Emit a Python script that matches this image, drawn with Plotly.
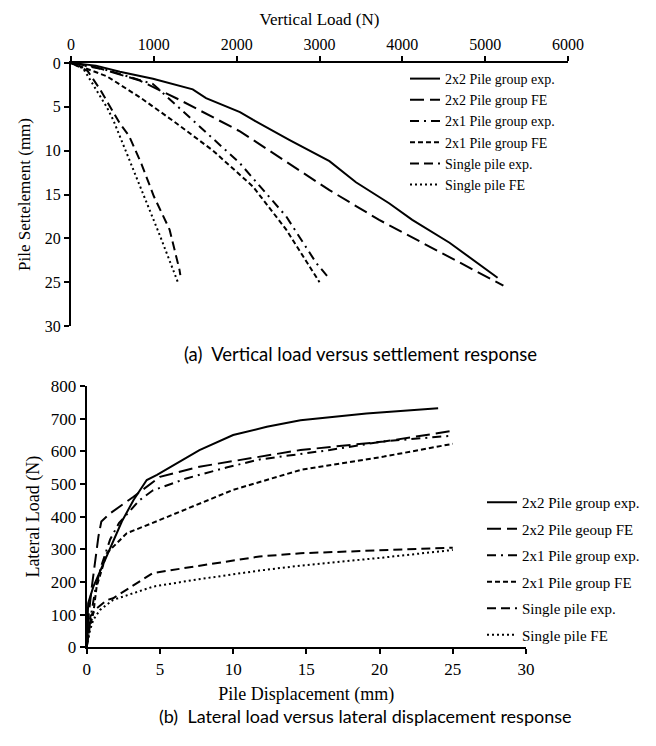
import plotly.graph_objects as go

# ---------------- (a) Vertical load vs settlement ----------------
load_2x2_exp = [0, 300, 590, 990, 1470, 1630, 2040, 2200, 2640, 3120, 3440, 3840, 4120, 4570, 5150]
sett_2x2_exp = [0, 0.3, 1.0, 1.8, 3.0, 4.0, 5.6, 6.5, 8.8, 11.2, 13.6, 16.0, 17.9, 20.5, 24.5]

load_2x2_fe = [0, 270, 830, 1310, 2040, 2430, 3120, 3720, 4500, 5220]
sett_2x2_fe = [0, 0.4, 2.0, 4.2, 7.8, 10.2, 14.5, 17.9, 21.8, 25.4]

load_2x1_exp = [0, 430, 990, 1200, 1474, 2036, 2598, 2960, 3120]
sett_2x1_exp = [0, 0.8, 2.4, 4.2, 6.5, 11.4, 17.5, 22.8, 24.6]

load_2x1_fe = [0, 430, 830, 1233, 1715, 2197, 2598, 3000]
sett_2x1_fe = [0, 1.5, 3.9, 6.6, 10.0, 14.1, 19.0, 25.0]

load_single_exp = [0, 200, 350, 590, 700, 850, 1000, 1190, 1310, 1320]
sett_single_exp = [0, 0.9, 3.0, 6.9, 8.3, 11.5, 15.2, 19.0, 23.6, 24.2]

load_single_fe = [0, 145, 230, 430, 510, 670, 830, 1070, 1290]
sett_single_fe = [0, 0.6, 1.9, 5.0, 6.5, 10.2, 14.0, 19.6, 25.0]

# ---------------- (b) Lateral load vs displacement ----------------
disp_2x2_exp = [0, 0.1, 0.45, 1.14, 1.82, 2.4, 3.2, 4.1, 4.8, 7.7, 10.0, 12.3, 14.6, 19.1, 24.0]
lat_2x2_exp = [0, 135, 185, 257, 329, 385, 451, 512, 528, 604, 650, 675, 695, 716, 732]

disp_2x2_fe = [0, 0.1, 0.35, 0.57, 0.8, 1.0, 1.6, 3.2, 5.0, 7.7, 11.8, 14.6, 20.3, 24.9]
lat_2x2_fe = [0, 84, 185, 267, 339, 385, 410, 461, 522, 553, 582, 604, 630, 662]

disp_2x1_exp = [0, 0.3, 0.6, 1.0, 1.6, 2.2, 2.8, 3.6, 4.5, 6.8, 9.6, 11.8, 16.6, 20.2, 25.0]
lat_2x1_exp = [0, 100, 180, 250, 330, 380, 410, 450, 480, 517, 551, 575, 604, 630, 648]

disp_2x1_fe = [0, 0.2, 0.45, 0.68, 1.37, 2.73, 5.0, 7.7, 10.0, 14.6, 20.3, 25.0]
lat_2x1_fe = [0, 60, 104, 186, 288, 349, 390, 441, 482, 543, 584, 623]

disp_single_exp = [0, 0.25, 0.7, 1.4, 1.8, 2.7, 4.5, 7.3, 9.6, 11.8, 14.6, 20.3, 25.0]
lat_single_exp = [0, 95, 120, 145, 150, 175, 227, 247, 262, 278, 288, 298, 305]

disp_single_fe = [0, 0.23, 0.45, 0.9, 1.8, 4.55, 7.3, 11.8, 14.6, 20.3, 25.0]
lat_single_fe = [0, 53, 84, 114, 145, 186, 206, 235, 250, 275, 298]

names_a = ["2x2 Pile group exp.", "2x2 Pile group FE", "2x1 Pile group exp.",
           "2x1 Pile group FE", "Single pile exp.", "Single pile FE"]
names_b = ["2x2 Pile group exp.", "2x2 Pile geoup FE", "2x1 Pile group exp.",
           "2x1 Pile group FE", "Single pile exp.", "Single pile FE"]

dashes = ["solid", "14px,6px", "9px,5px,2px,5px", "5px,3px", "9px,5px", "2px,3px"]

# page has an 8px body margin, so the figure is 640x730 placed at (8, 8)
OFF = 8
W, H = 640, 730
SERIF = "Liberation Serif"

fig = go.Figure()

series_a = [(load_2x2_exp, sett_2x2_exp), (load_2x2_fe, sett_2x2_fe),
            (load_2x1_exp, sett_2x1_exp), (load_2x1_fe, sett_2x1_fe),
            (load_single_exp, sett_single_exp), (load_single_fe, sett_single_fe)]
series_b = [(disp_2x2_exp, lat_2x2_exp), (disp_2x2_fe, lat_2x2_fe),
            (disp_2x1_exp, lat_2x1_exp), (disp_2x1_fe, lat_2x1_fe),
            (disp_single_exp, lat_single_exp), (disp_single_fe, lat_single_fe)]

for i, ((x, y), nm) in enumerate(zip(series_a, names_a)):
    fig.add_trace(go.Scatter(x=x, y=y, mode="lines", name=nm,
                             line=dict(color="black", width=2, dash=dashes[i]),
                             xaxis="x", yaxis="y", legend="legend"))
for i, ((x, y), nm) in enumerate(zip(series_b, names_b)):
    fig.add_trace(go.Scatter(x=x, y=y, mode="lines", name=nm,
                             line=dict(color="black", width=2, dash=dashes[i]),
                             xaxis="x2", yaxis="y2", legend="legend2",
                             legendgroup="b%d" % i))

def px_x(p):
    return (p - OFF) / W

def px_y(p):
    return 1 - (p - OFF) / H

axis_common = dict(showgrid=False, zeroline=False, showline=True, linecolor="black",
                   linewidth=2, ticks="outside", ticklen=5, tickwidth=2, tickcolor="black",
                   automargin=False)

fig.update_layout(
    width=W, height=H,
    margin=dict(l=0, r=0, t=0, b=0, autoexpand=False),
    paper_bgcolor="white", plot_bgcolor="white",
    showlegend=True,
    xaxis=dict(axis_common, domain=[px_x(71), px_x(568)], range=[0, 6000], dtick=1000,
               side="top", anchor="y",
               tickfont=dict(family=SERIF, size=16, color="black"),
               title=dict(text="Vertical Load (N)", font=dict(family=SERIF, size=17, color="black"),
                          standoff=6)),
    yaxis=dict(axis_common, domain=[px_y(326), px_y(63)], range=[30, 0], dtick=5,
               anchor="x",
               tickfont=dict(family=SERIF, size=16, color="black"),
               title=dict(text="Pile Settelement (mm)", font=dict(family=SERIF, size=17, color="black"),
                          standoff=10)),
    xaxis2=dict(axis_common, domain=[px_x(86.7), px_x(526)], range=[0, 30], dtick=5,
                anchor="y2",
                tickfont=dict(family=SERIF, size=17, color="black"),
                title=dict(text="Pile Displacement (mm)", font=dict(family=SERIF, size=18, color="black"),
                           standoff=10)),
    yaxis2=dict(axis_common, domain=[px_y(647.3), px_y(386)], range=[0, 800], dtick=100,
                anchor="x2",
                tickfont=dict(family=SERIF, size=17, color="black"),
                title=dict(text="Lateral Load (N)", font=dict(family=SERIF, size=18, color="black"),
                           standoff=6)),
    legend=dict(x=px_x(405), y=px_y(63), xanchor="left", yanchor="top",
                font=dict(family=SERIF, size=14, color="black"),
                bgcolor="rgba(0,0,0,0)", traceorder="normal",
                itemwidth=30),
    legend2=dict(x=px_x(482), y=px_y(486), xanchor="left", yanchor="top",
                 font=dict(family=SERIF, size=15, color="black"),
                 bgcolor="rgba(0,0,0,0)", traceorder="grouped", tracegroupgap=4,
                 itemwidth=30),
    annotations=[
        dict(text="(a)  Vertical load versus settlement response", x=px_x(360), y=px_y(354),
             xref="paper", yref="paper", showarrow=False, xanchor="center", yanchor="middle",
             font=dict(family="Lato", size=18.5, color="black")),
        dict(text="(b)  Lateral load versus lateral displacement response", x=px_x(365), y=px_y(716),
             xref="paper", yref="paper", showarrow=False, xanchor="center", yanchor="middle",
             font=dict(family="Lato", size=18, color="black")),
    ],
)

fig.write_html("out.html")
